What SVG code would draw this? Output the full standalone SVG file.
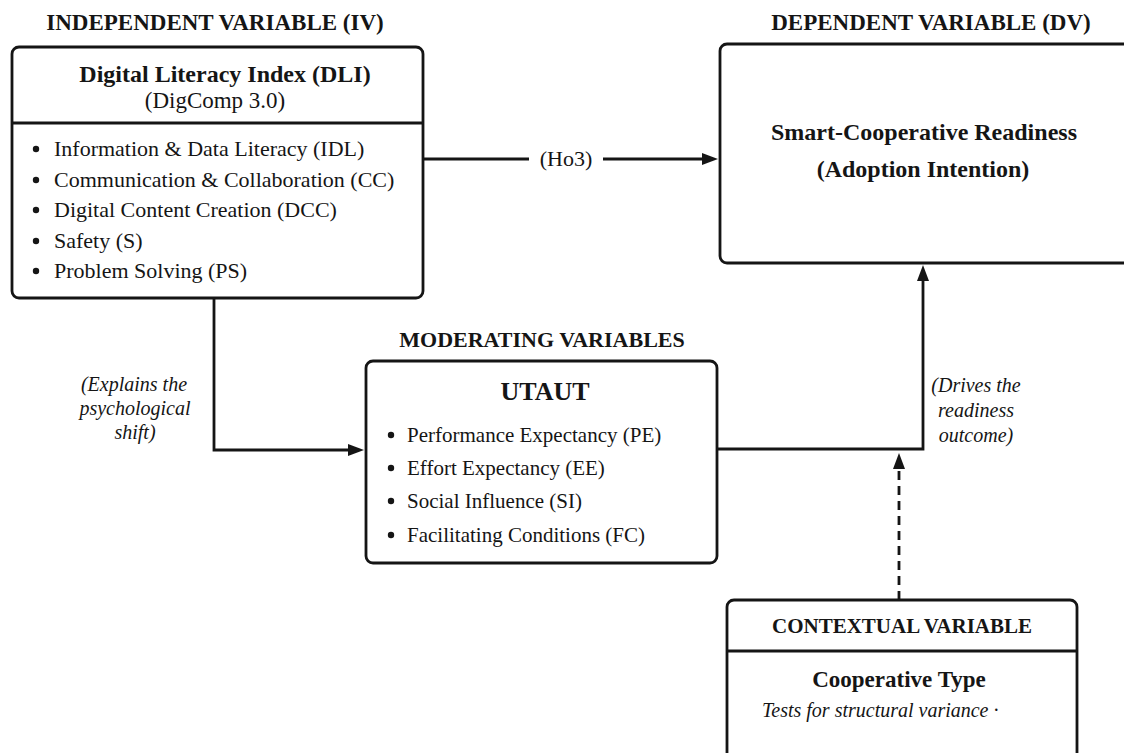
<svg xmlns="http://www.w3.org/2000/svg" width="1124" height="753" viewBox="0 0 1124 753">
<defs>
<style>
text{font-family:"Liberation Serif","Times New Roman",serif;fill:#151515}
.hd{font-weight:bold;font-size:22px;text-anchor:middle}
.box{fill:#fff;stroke:#151515;stroke-width:2.8}
.ln{fill:none;stroke:#151515;stroke-width:2.8}
.dash{fill:none;stroke:#151515;stroke-width:2.8;stroke-dasharray:9 6}
.it{font-style:italic;font-size:20px}
.li{font-size:22px}
.li2{font-size:21px}
.b{font-weight:bold}
.c{text-anchor:middle}
</style>
<marker id="ah" markerUnits="userSpaceOnUse" markerWidth="16" markerHeight="12" refX="4" refY="6" orient="auto">
<path d="M0,0 L16,6 L0,12 Z" fill="#151515"/>
</marker>
</defs>
<rect width="1124" height="753" fill="#fff"/>

<g id="connectors">
<path class="ln" d="M423 159 H529"/>
<text x="566" y="166" class="c" style="font-size:22px">(Ho3)</text>
<path class="ln" d="M603 159 H706" marker-end="url(#ah)"/>
<path class="ln" d="M214 298 V450 H352" marker-end="url(#ah)"/>
<path class="ln" d="M717 449 H923 V277" marker-end="url(#ah)"/>
<path class="dash" d="M899 600 V465" marker-end="url(#ah)"/>
<text class="it c" x="134" y="391">(Explains the</text>
<text class="it c" x="135" y="415">psychological</text>
<text class="it c" x="135" y="439">shift)</text>
<text class="it c" x="976" y="392">(Drives the</text>
<text class="it c" x="976" y="417">readiness</text>
<text class="it c" x="976" y="442">outcome)</text>
</g>

<g id="iv">
<text class="hd" x="215" y="30" style="font-size:23px">INDEPENDENT VARIABLE (IV)</text>
<rect class="box" x="12" y="47" width="411" height="251" rx="7"/>
<line class="ln" x1="12" y1="123" x2="423" y2="123"/>
<text class="b c" x="225" y="82" style="font-size:24px">Digital Literacy Index (DLI)</text>
<text class="c" x="215" y="108" style="font-size:23px">(DigComp 3.0)</text>
<g class="li">
<circle cx="36" cy="149" r="3.2" fill="#151515"/><text x="54" y="156">Information &amp; Data Literacy (IDL)</text>
<circle cx="36" cy="180" r="3.2" fill="#151515"/><text x="54" y="187">Communication &amp; Collaboration (CC)</text>
<circle cx="36" cy="210" r="3.2" fill="#151515"/><text x="54" y="217">Digital Content Creation (DCC)</text>
<circle cx="36" cy="241" r="3.2" fill="#151515"/><text x="54" y="248">Safety (S)</text>
<circle cx="36" cy="271" r="3.2" fill="#151515"/><text x="54" y="278">Problem Solving (PS)</text>
</g>
</g>

<g id="dv">
<text class="hd" x="931" y="30" style="font-size:23px">DEPENDENT VARIABLE (DV)</text>
<rect class="box" x="720" y="44" width="420" height="219" rx="7"/>
<text class="b c" x="924" y="140" style="font-size:24px">Smart-Cooperative Readiness</text>
<text class="b c" x="923" y="177" style="font-size:24px">(Adoption Intention)</text>
</g>

<g id="utaut">
<text class="hd" x="542" y="347">MODERATING VARIABLES</text>
<rect class="box" x="366" y="361" width="351" height="202" rx="7"/>
<text class="b c" x="545" y="400" style="font-size:26px">UTAUT</text>
<g class="li2">
<circle cx="391" cy="435" r="3.2" fill="#151515"/><text x="407" y="442">Performance Expectancy (PE)</text>
<circle cx="391" cy="468" r="3.2" fill="#151515"/><text x="407" y="475">Effort Expectancy (EE)</text>
<circle cx="391" cy="501" r="3.2" fill="#151515"/><text x="407" y="508">Social Influence (SI)</text>
<circle cx="391" cy="535" r="3.2" fill="#151515"/><text x="407" y="542">Facilitating Conditions (FC)</text>
</g>
</g>

<g id="contextual">
<rect class="box" x="727" y="600" width="350" height="170" rx="7"/>
<line class="ln" x1="727" y1="651" x2="1077" y2="651"/>
<text class="hd" x="902" y="633" style="font-size:21px">CONTEXTUAL VARIABLE</text>
<text class="b c" x="899" y="687" style="font-size:23px">Cooperative Type</text>
<text class="it" x="762" y="717">Tests for structural variance ·</text>
</g>
</svg>
